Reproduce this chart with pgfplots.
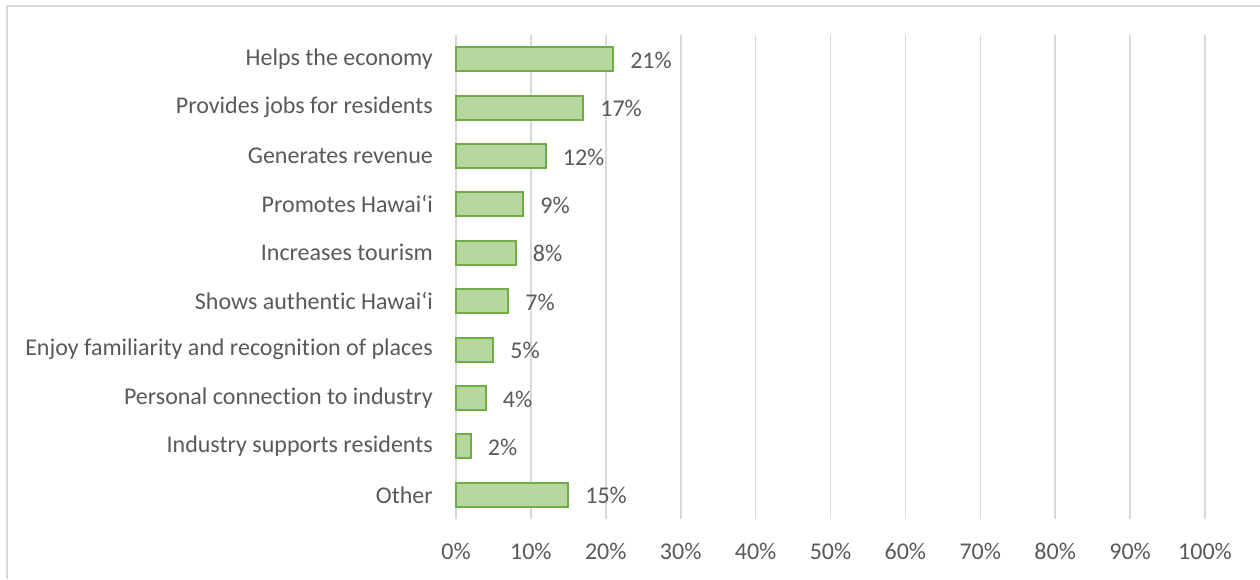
\documentclass[border=0pt]{standalone}
\usepackage{fontspec}
\setmainfont[Ligatures=NoCommon]{Carlito}
\usepackage{pgfplots}
\pgfplotsset{compat=1.18}
\definecolor{gridc}{HTML}{D9D9D9}
\definecolor{txt}{HTML}{595959}
\definecolor{barE}{HTML}{70AD47}
\definecolor{barF}{HTML}{B6D7A0}
\begin{document}
\begin{tikzpicture}[x=1pt,y=1pt]
\path[use as bounding box] (0,0) rectangle (1260,579);
\draw[gridc, line width=1.5pt] (7,0) -- (7,573) -- (1260,573);
\begin{axis}[
  at={(456pt,60pt)}, anchor=south west,
  scale only axis, width=749pt, height=484pt,
  xbar, bar width=24pt,
  xmin=0, xmax=100, ymin=-0.5, ymax=9.5, y dir=reverse,
  ytick={0,...,9},
  yticklabels={Helps the economy, Provides jobs for residents, Generates revenue, Promotes Hawaiʻi, Increases tourism, Shows authentic Hawaiʻi, Enjoy familiarity and recognition of places, Personal connection to industry, Industry supports residents, Other},
  xtick={0,10,...,100},
  /pgf/number format/assume math mode=true,
  xticklabel={\pgfmathprintnumber{\tick}\%},
  xmajorgrids, grid style={gridc, line width=1.6pt},
  axis line style={draw=none},
  major tick length=0pt,
  tick label style={txt, font=\fontsize{24}{28}\selectfont},
  xticklabel style={anchor=center, yshift=-32pt},
  yticklabel style={anchor=east, inner sep=0pt, xshift=-23pt},
  point meta=x,
  nodes near coords={\pgfmathprintnumber[assume math mode=true]{\pgfplotspointmeta}\%},
  nodes near coords style={txt, font=\fontsize{24}{28}\selectfont, anchor=west, inner sep=0pt, xshift=16pt, yshift=-1pt},
  clip=false,
]
\addplot[draw=barE, line width=2pt, fill=barF] coordinates {
  (21,0) (17,1) (12,2) (9,3) (8,4) (7,5) (5,6) (4,7) (2,8) (15,9)
};
\end{axis}
\end{tikzpicture}
\end{document}
